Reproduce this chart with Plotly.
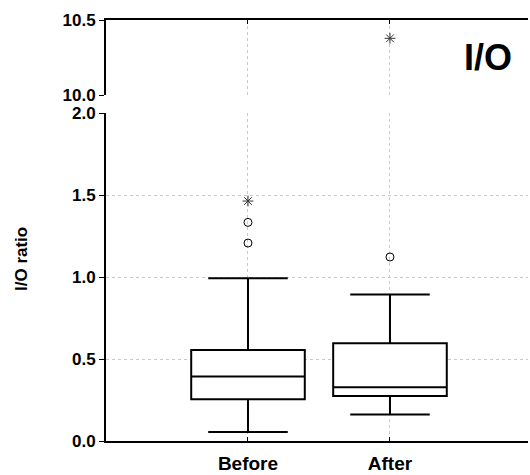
import plotly.graph_objects as go

categories = ["Before", "After"]
lower_fence = [0.055, 0.161]
q1 = [0.254, 0.274]
median = [0.393, 0.327]
q3 = [0.555, 0.596]
upper_fence = [0.992, 0.894]

circle_x = ["Before", "Before", "After"]
circle_y = [1.207, 1.333, 1.122]
star_low_x = ["Before"]
star_low_y = [1.463]
star_high_x = ["After"]
star_high_y = [10.378]

bottom_ticks = [0.0, 0.5, 1.0, 1.5, 2.0]
top_ticks = [10.0, 10.5]

W, H = 530, 475
L, R, T, B = 106, 2, 20, 34
plot_h = H - T - B
top_px_bottom = 95
bottom_px_top = 113
top_dom = [(H - B - top_px_bottom) / plot_h, 1.0]
bot_dom = [0.0, (H - B - bottom_px_top) / plot_h]

fig = go.Figure()

fig.add_trace(go.Box(
    x=categories, q1=q1, median=median, q3=q3,
    lowerfence=lower_fence, upperfence=upper_fence,
    boxpoints=False, width=0.8, whiskerwidth=0.7,
    fillcolor="white", line=dict(color="black", width=2),
    xaxis="x", yaxis="y", showlegend=False, hoverinfo="skip"))

fig.add_trace(go.Scatter(
    x=circle_x, y=circle_y, mode="markers",
    marker=dict(symbol="circle-open", size=8, color="black", line=dict(width=1)),
    xaxis="x", yaxis="y", showlegend=False))
fig.add_trace(go.Scatter(
    x=star_low_x, y=star_low_y, mode="markers",
    marker=dict(symbol="asterisk-open", size=9, color="#333333", line=dict(width=1, color="#333333")),
    xaxis="x", yaxis="y", showlegend=False))
fig.add_trace(go.Scatter(
    x=star_high_x, y=star_high_y, mode="markers",
    marker=dict(symbol="asterisk-open", size=9, color="#333333", line=dict(width=1, color="#333333")),
    xaxis="x2", yaxis="y2", showlegend=False))

xrange = [-1.0, 1.972]
grid = dict(showgrid=True, gridcolor="#c8c8c8", griddash="dot", gridwidth=1)
tickfont = dict(family="Liberation Sans", size=17, color="black", weight="bold")
xtickfont = dict(family="Liberation Sans", size=19, color="black", weight="bold")

fig.update_layout(
    width=W, height=H,
    margin=dict(l=L, r=R, t=T, b=B, autoexpand=False),
    paper_bgcolor="white", plot_bgcolor="white",
    xaxis=dict(type="category", categoryorder="array", categoryarray=categories,
               range=xrange, anchor="y", domain=[0, 1], automargin=False,
               showline=True, linecolor="black", linewidth=2,
               ticks="inside", ticklen=4, tickcolor="black", tickwidth=1,
               tickfont=xtickfont, ticklabelstandoff=4, zeroline=False, **grid),
    xaxis2=dict(type="category", categoryorder="array", categoryarray=categories,
                range=xrange, anchor="y2", matches="x", side="top", domain=[0, 1],
                automargin=False,
                showline=True, linecolor="black", linewidth=2,
                ticks="inside", ticklen=4, tickcolor="black", tickwidth=1,
                showticklabels=False, zeroline=False, **grid),
    yaxis=dict(range=[0, 2], domain=bot_dom, anchor="x", automargin=False,
               tickvals=bottom_ticks, tickformat=".1f",
               showline=True, linecolor="black", linewidth=2,
               ticks="outside", ticklen=5, tickcolor="black", tickwidth=1,
               tickfont=tickfont, zeroline=False, **grid),
    yaxis2=dict(range=[10.0, 10.5], domain=top_dom, anchor="x2", automargin=False,
                tickvals=top_ticks, tickformat=".1f",
                showline=True, linecolor="black", linewidth=2,
                ticks="outside", ticklen=5, tickcolor="black", tickwidth=1,
                tickfont=tickfont, showgrid=False, zeroline=False),
    annotations=[
        dict(text="I/O ratio", textangle=-90, xref="paper", yref="paper",
             x=(21 - L) / (W - L - R), y=(H - B - 259) / plot_h,
             xanchor="center", yanchor="middle", showarrow=False,
             font=dict(family="Liberation Sans", size=17, color="black", weight="bold")),
        dict(text="I/O", xref="paper", yref="paper",
             x=(488 - L) / (W - L - R), y=(H - B - 58) / plot_h,
             xanchor="center", yanchor="middle", showarrow=False,
             font=dict(family="Liberation Sans", size=36, color="black", weight="bold")),
    ],
)

fig.write_html("out.html")
